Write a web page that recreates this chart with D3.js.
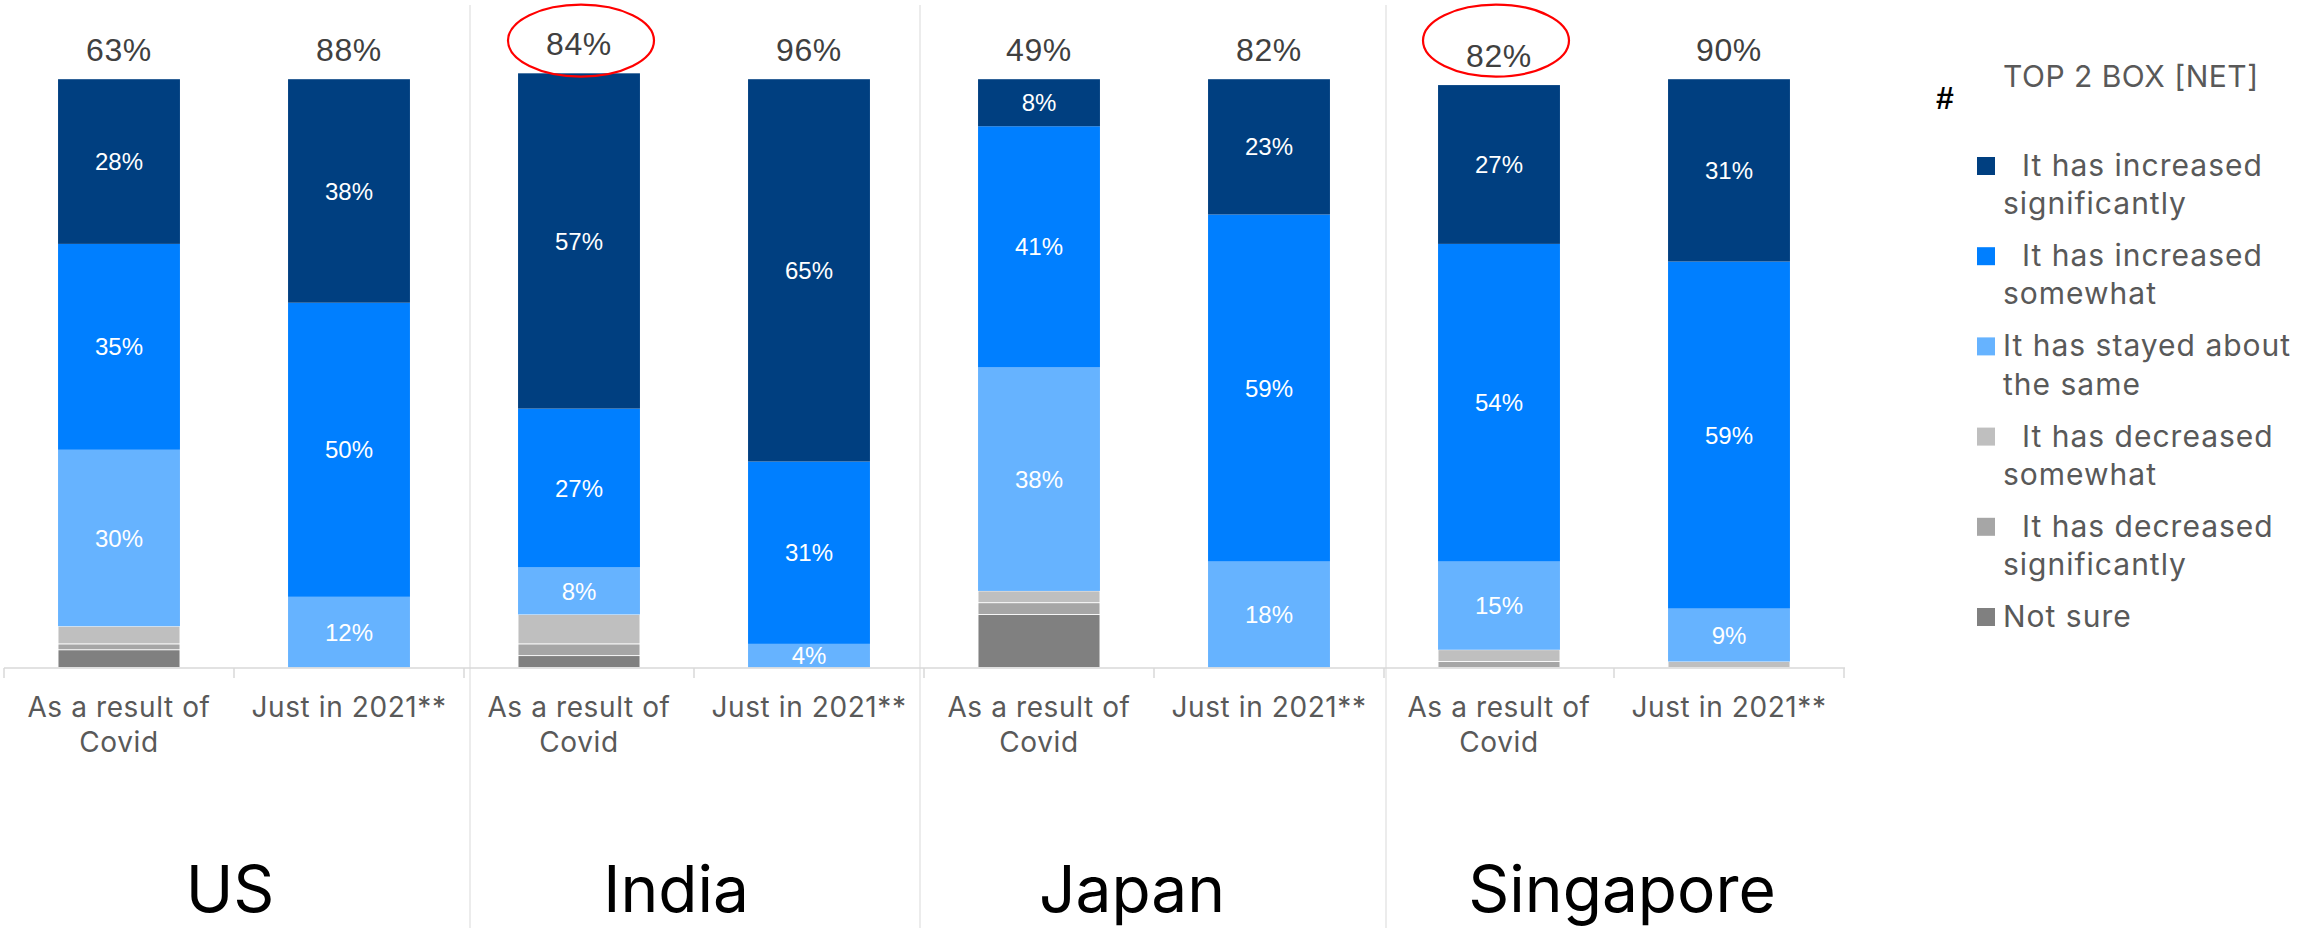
<!DOCTYPE html>
<html>
<head>
<meta charset="utf-8">
<script src="https://cdn.jsdelivr.net/npm/d3@7"></script>
<style>
  html, body { margin: 0; padding: 0; background: #ffffff; }
  svg { display: block; }
</style>
</head>
<body>
<script>
// ---- data -------------------------------------------------------------
const countries = ["US", "India", "Japan", "Singapore"];
const periods = ["As a result of Covid", "Just in 2021**"];
const periodLines = [["As a result of", "Covid"], ["Just in 2021**"]];

// one value per bar: US covid, US 2021, India covid, India 2021, Japan covid, Japan 2021, Singapore covid, Singapore 2021
const increasedSignificantly = [28, 38, 57, 65, 8, 23, 27, 31];
const increasedSomewhat      = [35, 50, 27, 31, 41, 59, 54, 59];
const stayedSame             = [30, 12, 8, 4, 38, 18, 15, 9];
const decreasedSomewhat      = [3, 0, 5, 0, 2, 0, 2, 1];
const decreasedSignificantly = [1, 0, 2, 0, 2, 0, 1, 0];
const notSure                = [3, 0, 2, 0, 9, 0, 0, 0];
const top2Box                = [63, 88, 84, 96, 49, 82, 82, 90];

const seriesKeys = ["incSig", "incSome", "same", "decSome", "decSig", "notSure"];
const seriesNames = [
  "It has increased significantly",
  "It has increased somewhat",
  "It has stayed about the same",
  "It has decreased somewhat",
  "It has decreased significantly",
  "Not sure"
];
const legendLines = [
  ["It has increased", "significantly"],
  ["It has increased", "somewhat"],
  ["It has stayed about", "the same"],
  ["It has decreased", "somewhat"],
  ["It has decreased", "significantly"],
  ["Not sure"]
];
const legendIndent = [true, true, false, true, true, false];
const seriesColors = ["#003F80", "#007FFF", "#66B3FF", "#BFBFBF", "#A6A6A6", "#808080"];
const labelledSeries = ["incSig", "incSome", "same"];
const legendTitle = "TOP 2 BOX [NET]";
const highlightedBars = [2, 6];

// ---- layout -----------------------------------------------------------
const W = 2298, H = 928;
const svg = d3.select("body").append("svg")
  .attr("width", W).attr("height", H)
  .attr("viewBox", `0 0 ${W} ${H}`);
svg.append("rect").attr("width", W).attr("height", H).attr("fill", "#ffffff");

const barIndex = d3.range(countries.length * periods.length);
const x = d3.scaleBand().domain(barIndex).range([4, 1844]).padding(0);
const barW = x.bandwidth() * 0.53;
const barLeft = i => x(i) + (x.bandwidth() - barW) / 2;
const barCenter = i => x(i) + x.bandwidth() / 2;

const y = d3.scaleLinear().domain([0, 100]).range([667.4, 79.2]);
const baseY = 668;

const rows = barIndex.map(i => ({
  incSig: increasedSignificantly[i],
  incSome: increasedSomewhat[i],
  same: stayedSame[i],
  decSome: decreasedSomewhat[i],
  decSig: decreasedSignificantly[i],
  notSure: notSure[i]
}));

// stacked from the bottom: not sure first, increased significantly on top
const stackOrder = seriesKeys.slice().reverse();
const stacked = d3.stack().keys(stackOrder)(rows);
const color = d3.scaleOrdinal().domain(seriesKeys).range(seriesColors);

// country separators
const separatorX = [470, 920, 1386];
svg.append("g").selectAll("line").data(separatorX).join("line")
  .attr("x1", d => d).attr("x2", d => d)
  .attr("y1", 5).attr("y2", H)
  .attr("stroke", "#E6E6E6").attr("stroke-width", 1.5);

// bars
const layers = svg.append("g").selectAll("g").data(stacked).join("g")
  .attr("fill", d => color(d.key));
layers.selectAll("rect").data(d => d.map((v, i) => ({ v, i, key: d.key })))
  .join("rect")
  .filter(d => d.v[1] - d.v[0] > 0)
  .attr("x", d => barLeft(d.i))
  .attr("width", barW)
  .attr("y", d => y(d.v[1]))
  .attr("height", d => y(d.v[0]) - y(d.v[1]))
  .attr("stroke", d => labelledSeries.includes(d.key) ? "none" : "#ffffff")
  .attr("stroke-width", 0.8);

// values inside segments
const segLabels = svg.append("g")
  .attr("font-family", "'Liberation Sans', Arial, sans-serif")
  .attr("font-size", 24)
  .attr("fill", "#ffffff")
  .attr("text-anchor", "middle");
stacked.filter(s => labelledSeries.includes(s.key)).forEach(s => {
  s.forEach((v, i) => {
    const val = v[1] - v[0];
    if (val <= 0) return;
    segLabels.append("text")
      .attr("x", barCenter(i))
      .attr("y", (y(v[0]) + y(v[1])) / 2)
      .attr("dy", "0.36em")
      .text(val + "%");
  });
});

// top 2 box totals above bars
const totals = barIndex.map(i => d3.sum(seriesKeys, k => rows[i][k]));
svg.append("g")
  .attr("font-family", "'Liberation Sans', Arial, sans-serif")
  .attr("font-size", 32)
  .attr("letter-spacing", 0.6)
  .attr("fill", "#404040")
  .attr("text-anchor", "middle")
  .selectAll("text").data(barIndex).join("text")
  .attr("x", i => barCenter(i))
  .attr("y", i => y(totals[i]) - 18.5)
  .text(i => top2Box[i] + "%");

// highlight rings round selected totals
svg.append("g").selectAll("ellipse").data(highlightedBars).join("ellipse")
  .attr("cx", i => barCenter(i) + (i === 2 ? 2 : -3))
  .attr("cy", 40.6)
  .attr("rx", 73)
  .attr("ry", 36)
  .attr("fill", "none")
  .attr("stroke", "#FF0000")
  .attr("stroke-width", 2.2);

// category axis
const axis = svg.append("g");
axis.append("line")
  .attr("x1", x.range()[0]).attr("x2", x.range()[1] + 1)
  .attr("y1", baseY).attr("y2", baseY)
  .attr("stroke", "#D9D9D9").attr("stroke-width", 1.5);
axis.selectAll("line.tick").data(d3.range(barIndex.length + 1)).join("line")
  .attr("class", "tick")
  .attr("x1", k => x.range()[0] + k * x.step())
  .attr("x2", k => x.range()[0] + k * x.step())
  .attr("y1", baseY).attr("y2", baseY + 10)
  .attr("stroke", "#D9D9D9").attr("stroke-width", 1.5);

const tickText = axis.append("g")
  .attr("font-family", "Inter, 'Noto Sans', sans-serif")
  .attr("font-size", 28)
  .attr("letter-spacing", 0.6)
  .attr("fill", "#595959")
  .attr("text-anchor", "middle")
  .selectAll("text").data(barIndex).join("text")
  .attr("x", i => barCenter(i))
  .attr("y", 716.7);
tickText.selectAll("tspan").data(i => periodLines[i % periods.length].map(t => ({ t, i })))
  .join("tspan")
  .attr("x", d => barCenter(d.i))
  .attr("dy", (d, j) => j === 0 ? 0 : 35)
  .text(d => d.t);

// country names
const countryOffset = [-4, -18, -22, 8];
svg.append("g")
  .attr("font-family", "Inter, 'Noto Sans', sans-serif")
  .attr("font-size", 64)
  .attr("fill", "#000000")
  .attr("text-anchor", "middle")
  .selectAll("text").data(countries).join("text")
  .attr("x", (c, k) => (barCenter(2 * k) + barCenter(2 * k + 1)) / 2 + countryOffset[k])
  .attr("y", 911.7)
  .text(c => c);

// legend
const legend = svg.append("g")
  .attr("font-family", "Inter, 'Noto Sans', sans-serif")
  .attr("fill", "#595959");
legend.append("text")
  .attr("x", 1936).attr("y", 109)
  .attr("font-family", "'Liberation Sans', Arial, sans-serif")
  .attr("font-weight", "bold")
  .attr("font-size", 32)
  .attr("fill", "#000000")
  .text("#");
legend.append("text")
  .attr("x", 2003).attr("y", 87)
  .attr("font-size", 30)
  .attr("letter-spacing", 0.5)
  .text(legendTitle);

const itemTop = 176, itemStep = 90.2, lineStep = 38.3;
const items = legend.selectAll("g.item").data(seriesKeys).join("g")
  .attr("class", "item")
  .attr("transform", (k, j) => `translate(0, ${itemTop + j * itemStep})`);
items.append("rect")
  .attr("x", 1977).attr("y", -19)
  .attr("width", 18).attr("height", 18)
  .attr("fill", k => color(k));
items.append("text")
  .attr("font-size", 30)
  .attr("letter-spacing", 1)
  .selectAll("tspan").data((k, j) => legendLines[j].map((t, n) => ({ t, n, j })))
  .join("tspan")
  .attr("x", d => 2003 + (d.n === 0 && legendIndent[d.j] ? 19 : 0))
  .attr("y", d => d.n * lineStep)
  .text(d => d.t);
</script>
</body>
</html>
